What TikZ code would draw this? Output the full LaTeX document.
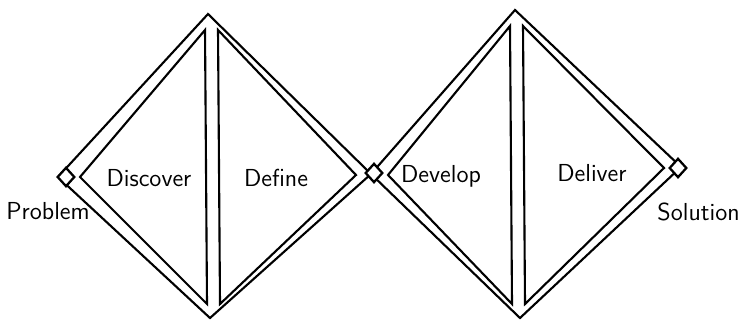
\documentclass[tikz,border=0pt]{standalone}
\usepackage{tikz}
\usetikzlibrary{shapes.geometric,positioning}

\begin{document}
\begin{tikzpicture}[x=0.02cm, y=-0.02cm, font=\sffamily\fontsize{14}{16}\selectfont,
 edge/.style={draw, line width=1.2pt, line join=miter},
 marker/.style={draw, diamond, line width=1.3pt, fill=white, inner sep=0pt, minimum width=10pt, minimum height=11pt},
 phase/.style={inner sep=1pt}]
\useasboundingbox (0,0) rectangle (742,321);
% outer diamonds
\coordinate (p1) at (58,177);
\coordinate (t1) at (208,14);
\coordinate (mid) at (371,174);
\coordinate (b1) at (210,318);
\coordinate (t2) at (515,10);
\coordinate (p2) at (681,167);
\coordinate (b2) at (520,318);
\draw[edge] (p1) -- (t1) -- (mid) -- (b1) -- cycle;
\draw[edge] (mid) -- (t2) -- (p2) -- (b2) -- cycle;
% inner triangles, first diamond
\coordinate (a1) at (80,177);
\coordinate (a2) at (205,30);
\coordinate (a3) at (207,304);
\draw[edge] (a1) -- (a2) -- (a3) -- cycle;
\coordinate (c1) at (218,30);
\coordinate (c2) at (220,304);
\coordinate (c3) at (356,175);
\draw[edge] (c1) -- (c2) -- (c3) -- cycle;
% inner triangles, second diamond
\coordinate (d1) at (388,175);
\coordinate (d2) at (510,26);
\coordinate (d3) at (512,304);
\draw[edge] (d1) -- (d2) -- (d3) -- cycle;
\coordinate (e1) at (523,26);
\coordinate (e2) at (525,304);
\coordinate (e3) at (664,168);
\draw[edge] (e1) -- (e2) -- (e3) -- cycle;
% small markers
\node[marker] (start) at (66,177) {};
\node[marker] (turn) at (374,173) {};
\node[marker] (goal) at (678,168) {};
% labels
\node[phase] (discover) at (149,178) {Discover};
\node[phase] (define) at (276,178) {Define};
\node[phase] (develop) at (441,176) {Develop};
\node[phase] (deliver) at (592,173) {Deliver};
\node[anchor=west, inner sep=0pt] (problem) at (6,211) {Problem};
\node[anchor=east, inner sep=0pt] (solution) at (740,212) {Solution};
\end{tikzpicture}
\end{document}
